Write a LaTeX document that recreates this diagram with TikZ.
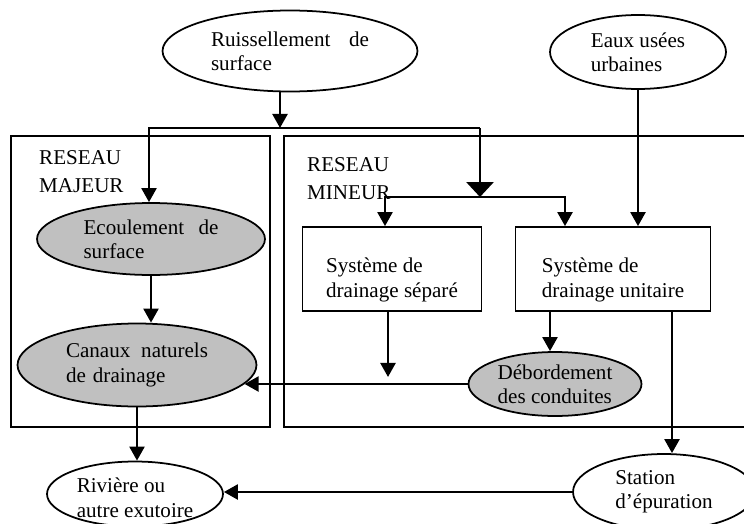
\documentclass[tikz,border=0pt]{standalone}
\usepackage{fontspec}
\setmainfont{Liberation Serif}
\usetikzlibrary{arrows.meta,positioning,shapes.geometric}
\definecolor{flowgray}{RGB}{192,192,192}
% text set lower than the centre of its shape, shape size kept
\newcommand{\droptext}[2]{\raisebox{-#1}[0pt][0pt]{\begin{tabular}{@{}l@{}}#2\end{tabular}}}

\begin{document}
\begin{tikzpicture}[x=0.02cm,y=-0.02cm,
  every node/.style={font=\fontsize{12}{13.8}\selectfont},
  src/.style={draw,ellipse,line width=1pt,inner sep=0pt,align=left},
  flow/.style={src,fill=flowgray},
  sysbox/.style={draw,rectangle,line width=1pt,inner sep=0pt},
  frame/.style={line width=1pt},
  arr/.style={line width=1.5pt,-{Triangle[width=8.5pt,length=8pt]}},
  bigarr/.style={line width=1.5pt,-{Triangle[width=15.4pt,length=8.5pt]}}]
\useasboundingbox (0,0) rectangle (744,524);
% the two networks
\draw[frame] (11,136) rectangle (270,427);
\draw[frame] (744,136) -- (284,136) -- (284,427) -- (744,427);
\node[anchor=west,align=left] (maj) at (33,172) {RESEAU\\[2pt]MAJEUR};
\node[anchor=west,align=left] (min) at (301,179) {RESEAU\\[2pt]MINEUR};
% sources
\node[src,minimum width=5.1cm,minimum height=1.62cm,text width=3.16cm] (ruis) at (290,51) {Ruissellement\hfill de\\surface};
\node[src,minimum width=3.52cm,minimum height=1.48cm] (eaux) at (638,52) {Eaux usées\\urbaines};
% reseau majeur
\node[flow,minimum width=4.56cm,minimum height=1.44cm,text width=2.7cm] (ecoul) at (151,239) {Ecoulement\hfill de\\surface};
\node[flow,minimum width=4.78cm,minimum height=1.66cm,text width=2.84cm] (canal) at (137,365) {Canaux\hfill naturels\\de drainage};
% reseau mineur
\node[sysbox,minimum width=3.58cm,minimum height=1.68cm] (sep) at (392,269) {\droptext{9.3pt}{Système de\\drainage séparé}};
\node[sysbox,minimum width=3.9cm,minimum height=1.68cm] (uni) at (613,269) {\droptext{9.3pt}{Système de\\drainage unitaire}};
\node[flow,minimum width=3.46cm,minimum height=1.28cm] (deb) at (555,384) {Débordement\\des conduites};
% exits
\node[src,minimum width=3.52cm,minimum height=1.3cm] (riv) at (135,494) {\droptext{6.5pt}{Rivière ou\\autre exutoire}};
\node[src,minimum width=3.64cm,minimum height=1.52cm] (stat) at (664,492) {Station\\d’épuration};
% branch points
\coordinate (top) at (280,128);
\coordinate (topL) at (149,128);
\coordinate (topR) at (480,128);
\coordinate (mid) at (480,197);
\coordinate (midL) at (385,197);
\coordinate (midR) at (565,197);
\coordinate (sepout) at (388,377);
\coordinate (debin) at (550,0);
\coordinate (statin) at (672,0);
\draw[arr] (ruis.south -| top) -- (top);
\draw[arr] (topR) -- (topL) -- (topL |- ecoul.north);
\draw[bigarr] (topR) -- (mid);
\draw[arr] (mid) -- (midL) -- (midL |- sep.north);
\draw[arr] (mid) -- (midR) -- (midR |- uni.north);
\draw[arr] (eaux.south) -- (eaux.south |- uni.north);
\draw[arr] (ecoul.south) -- (ecoul.south |- canal.north);
\draw[arr] (canal.south) -- (canal.south |- riv.north);
\draw[arr] (sep.south -| sepout) -- (sepout);
\draw[arr] (uni.south -| debin) -- (deb.north -| debin);
\draw[arr] (uni.south -| statin) -- (stat.north -| statin);
\draw[arr] (deb.west) -- (deb.west -| canal.-10);
\draw[arr] (stat.west) -- (stat.west -| riv.east);
\end{tikzpicture}
\end{document}
